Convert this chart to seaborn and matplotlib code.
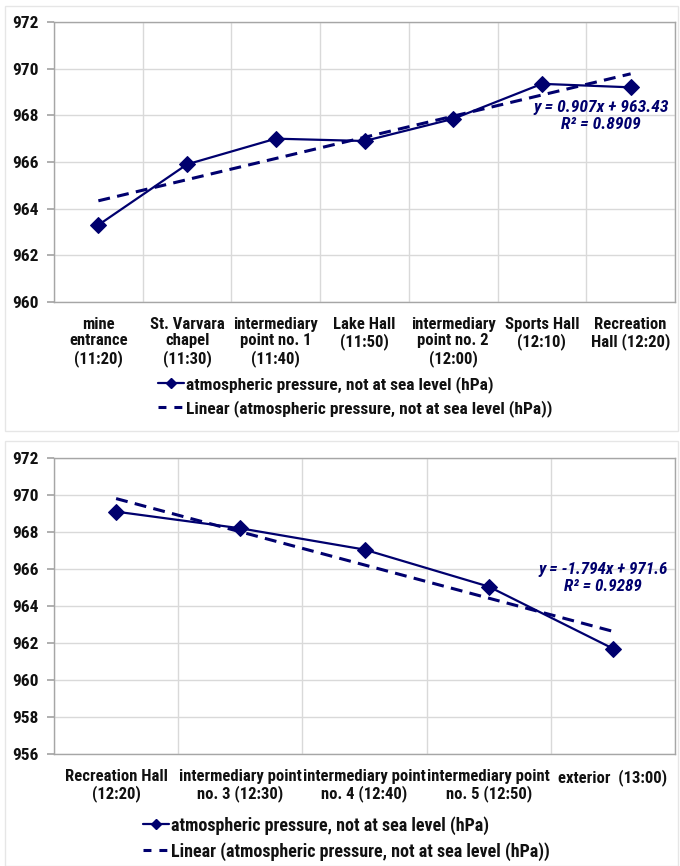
import matplotlib
matplotlib.use("Agg")
import matplotlib.pyplot as plt
import seaborn as sns
import numpy as np
from matplotlib.patches import Rectangle
from matplotlib.lines import Line2D

sns.set_theme(style="white")
plt.rcParams['font.family'] = ['Roboto Condensed', 'DejaVu Sans']
plt.rcParams['font.weight'] = 'bold'
plt.rcParams['text.color'] = '#111111'
plt.rcParams['xtick.color'] = '#111111'
plt.rcParams['ytick.color'] = '#111111'

# ---------------- data ----------------
top_categories = ["mine\nentrance\n(11:20)", "St. Varvara\nchapel\n(11:30)",
                  "intermediary\npoint no. 1\n(11:40)", "Lake Hall\n(11:50)",
                  "intermediary\npoint no. 2\n(12:00)", "Sports Hall\n(12:10)",
                  "Recreation\nHall (12:20)"]
top_pressure = [963.3, 965.9, 967.0, 966.9, 967.85, 969.35, 969.2]
top_slope, top_intercept = 0.907, 963.43
top_eq = "y = 0.907x + 963.43\nR² = 0.8909"
top_yticks = [960, 962, 964, 966, 968, 970, 972]

bot_categories = ["Recreation Hall\n(12:20)", "intermediary point\nno. 3 (12:30)",
                  "intermediary point\nno. 4 (12:40)", "intermediary point\nno. 5 (12:50)",
                  "exterior  (13:00)"]
bot_pressure = [969.1, 968.2, 967.05, 965.05, 961.7]
bot_slope, bot_intercept = -1.794, 971.6
bot_eq = "y = -1.794x + 971.6\nR² = 0.9289"
bot_yticks = [956, 958, 960, 962, 964, 966, 968, 970, 972]

series_label = "atmospheric pressure, not at sea level (hPa)"
trend_label = "Linear (atmospheric pressure, not at sea level (hPa))"

NAVY = "#00006e"
GRID = "#d9d9d9"
SPINE = "#a6a6a6"

W, H = 680, 866
fig = plt.figure(figsize=(W / 100, H / 100), dpi=100)
renderer = fig.canvas.get_renderer()


def fx(px):
    return px / W


def fy(py):
    return 1 - py / H


def fit_size(text, target_px, fs0=12.5):
    t = fig.text(0, 0, text, fontsize=fs0, fontweight='bold', fontstyle='italic')
    w = t.get_window_extent(renderer).width
    t.remove()
    return fs0 * target_px / w


def panel(ax_box, cats, vals, slope, intercept, eq, yticks, eq_pos, eq_w,
          legend_anchor, tick_fs, xfs, legfs, legsp, hlen):
    left, top, right, bottom = ax_box
    ax = fig.add_axes([fx(left), fy(bottom), fx(right - left), (bottom - top) / H])
    n = len(cats)
    xs = np.arange(n)
    trend = [slope * (i + 1) + intercept for i in range(n)]
    sns.lineplot(x=xs, y=trend, ax=ax, color=NAVY, linewidth=2.2,
                 linestyle=(0, (3.9, 2.4)), zorder=3)
    sns.lineplot(x=xs, y=vals, ax=ax, color=NAVY, linewidth=1.6, marker='D',
                 markersize=8, markeredgecolor=NAVY, markerfacecolor=NAVY, zorder=4)
    ax.set_xlim(-0.5, n - 0.5)
    ax.set_ylim(yticks[0], yticks[-1])
    ax.set_yticks(yticks)
    ax.set_yticklabels([str(t) for t in yticks], fontsize=tick_fs, fontweight='bold')
    ax.set_xticks(np.arange(n + 1) - 0.5)
    ax.set_xticklabels([])
    ax.set_xticks(xs, minor=True)
    ax.set_xticklabels(cats, minor=True, fontsize=xfs, fontweight='bold',
                       linespacing=1.15)
    ax.tick_params(axis='x', which='minor', length=0, pad=10.5)
    ax.tick_params(axis='x', which='major', length=5, color=SPINE, direction='out')
    ax.tick_params(axis='y', length=5, color=SPINE, direction='out', pad=6,
                   left=True)
    ax.grid(True, which='major', color=GRID, linewidth=1)
    ax.set_axisbelow(True)
    for s in ax.spines.values():
        s.set_color(SPINE)
        s.set_linewidth(1)
    ax.set_xlabel("")
    ax.set_ylabel("")
    eqfs = fit_size(eq.split("\n")[0], eq_w)
    ax.text(fx(eq_pos[0]), fy(eq_pos[1]), eq, transform=fig.transFigure,
            ha='right', va='center', color=NAVY, fontsize=eqfs,
            fontweight='bold', fontstyle='italic', multialignment='center',
            linespacing=1.1)
    handles = [Line2D([], [], color=NAVY, linewidth=1.6, marker='D', markersize=5),
               Line2D([], [], color=NAVY, linewidth=2.2, linestyle=(0, (2.6, 2.6)))]
    fig.legend(handles, [series_label, trend_label], loc='upper left',
               bbox_to_anchor=(fx(legend_anchor[0]), fy(legend_anchor[1])),
               frameon=False, handlelength=hlen, handletextpad=0.1,
               labelspacing=legsp, borderpad=0, borderaxespad=0,
               prop={'weight': 'bold', 'size': legfs})
    return ax


# panel frames
for (x0, y0, x1, y1) in [(5, 6, 678, 431), (5, 441, 678, 866)]:
    fig.patches.append(Rectangle((fx(x0), fy(y1)), fx(x1 - x0), (y1 - y0) / H,
                                 transform=fig.transFigure, fill=False,
                                 edgecolor="#e6e6e6", linewidth=1))

panel((54, 22, 675, 302), top_categories, top_pressure, top_slope, top_intercept,
      top_eq, top_yticks, (669, 116), 135, (158, 376), 12.5, 12, 12.5, 0.4, 1.5)
panel((54, 458, 675, 754), bot_categories, bot_pressure, bot_slope, bot_intercept,
      bot_eq, bot_yticks, (668, 578), 130, (143, 816), 12.5, 12, 13, 0.4, 1.45)

fig.savefig("out.png", dpi=100)
